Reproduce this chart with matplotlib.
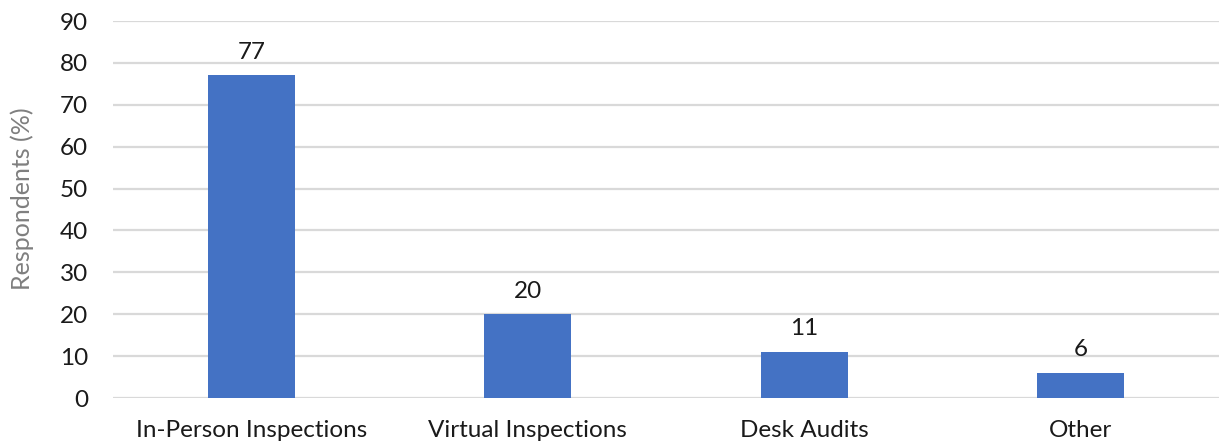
import numpy as np
import matplotlib.pyplot as plt

# Survey results: share of respondents per inspection type
categories = ['In-Person Inspections', 'Virtual Inspections', 'Desk Audits', 'Other']
respondents_pct = [77, 20, 11, 6]
y_ticks = [0, 10, 20, 30, 40, 50, 60, 70, 80, 90]

plt.rcParams['font.family'] = ['Lato', 'DejaVu Sans']

fig = plt.figure(figsize=(12.23, 4.46), dpi=100)
ax = fig.add_axes([0.0924, 0.1076, 0.9043, 0.8453])

x = np.arange(len(categories))
bars = ax.bar(x, respondents_pct, width=0.315, color='#4472C4', zorder=3)

# value labels above each bar
for xi, v in zip(x, respondents_pct):
    ax.annotate(str(v), (xi, v), xytext=(0, 9), textcoords='offset points',
                ha='center', va='bottom', fontsize=17.5, color='#1a1a1a')

ax.set_xlim(-0.5, len(categories) - 0.5)
ax.set_ylim(0, 90)
ax.set_yticks(y_ticks)
ax.set_xticks(x)
ax.set_xticklabels(categories)
ax.tick_params(axis='both', length=0, labelsize=17.5, colors='#1a1a1a')
ax.tick_params(axis='y', pad=18)
ax.tick_params(axis='x', pad=16)

ax.set_ylabel('Respondents (%)', fontsize=18, color='#7f7f7f')
ax.yaxis.set_label_coords(-0.071, 0.53)
ax.grid(axis='y', color='#d9d9d9', linewidth=1.6, zorder=0)
for s in ax.spines.values():
    s.set_visible(False)

plt.savefig('out.png')
